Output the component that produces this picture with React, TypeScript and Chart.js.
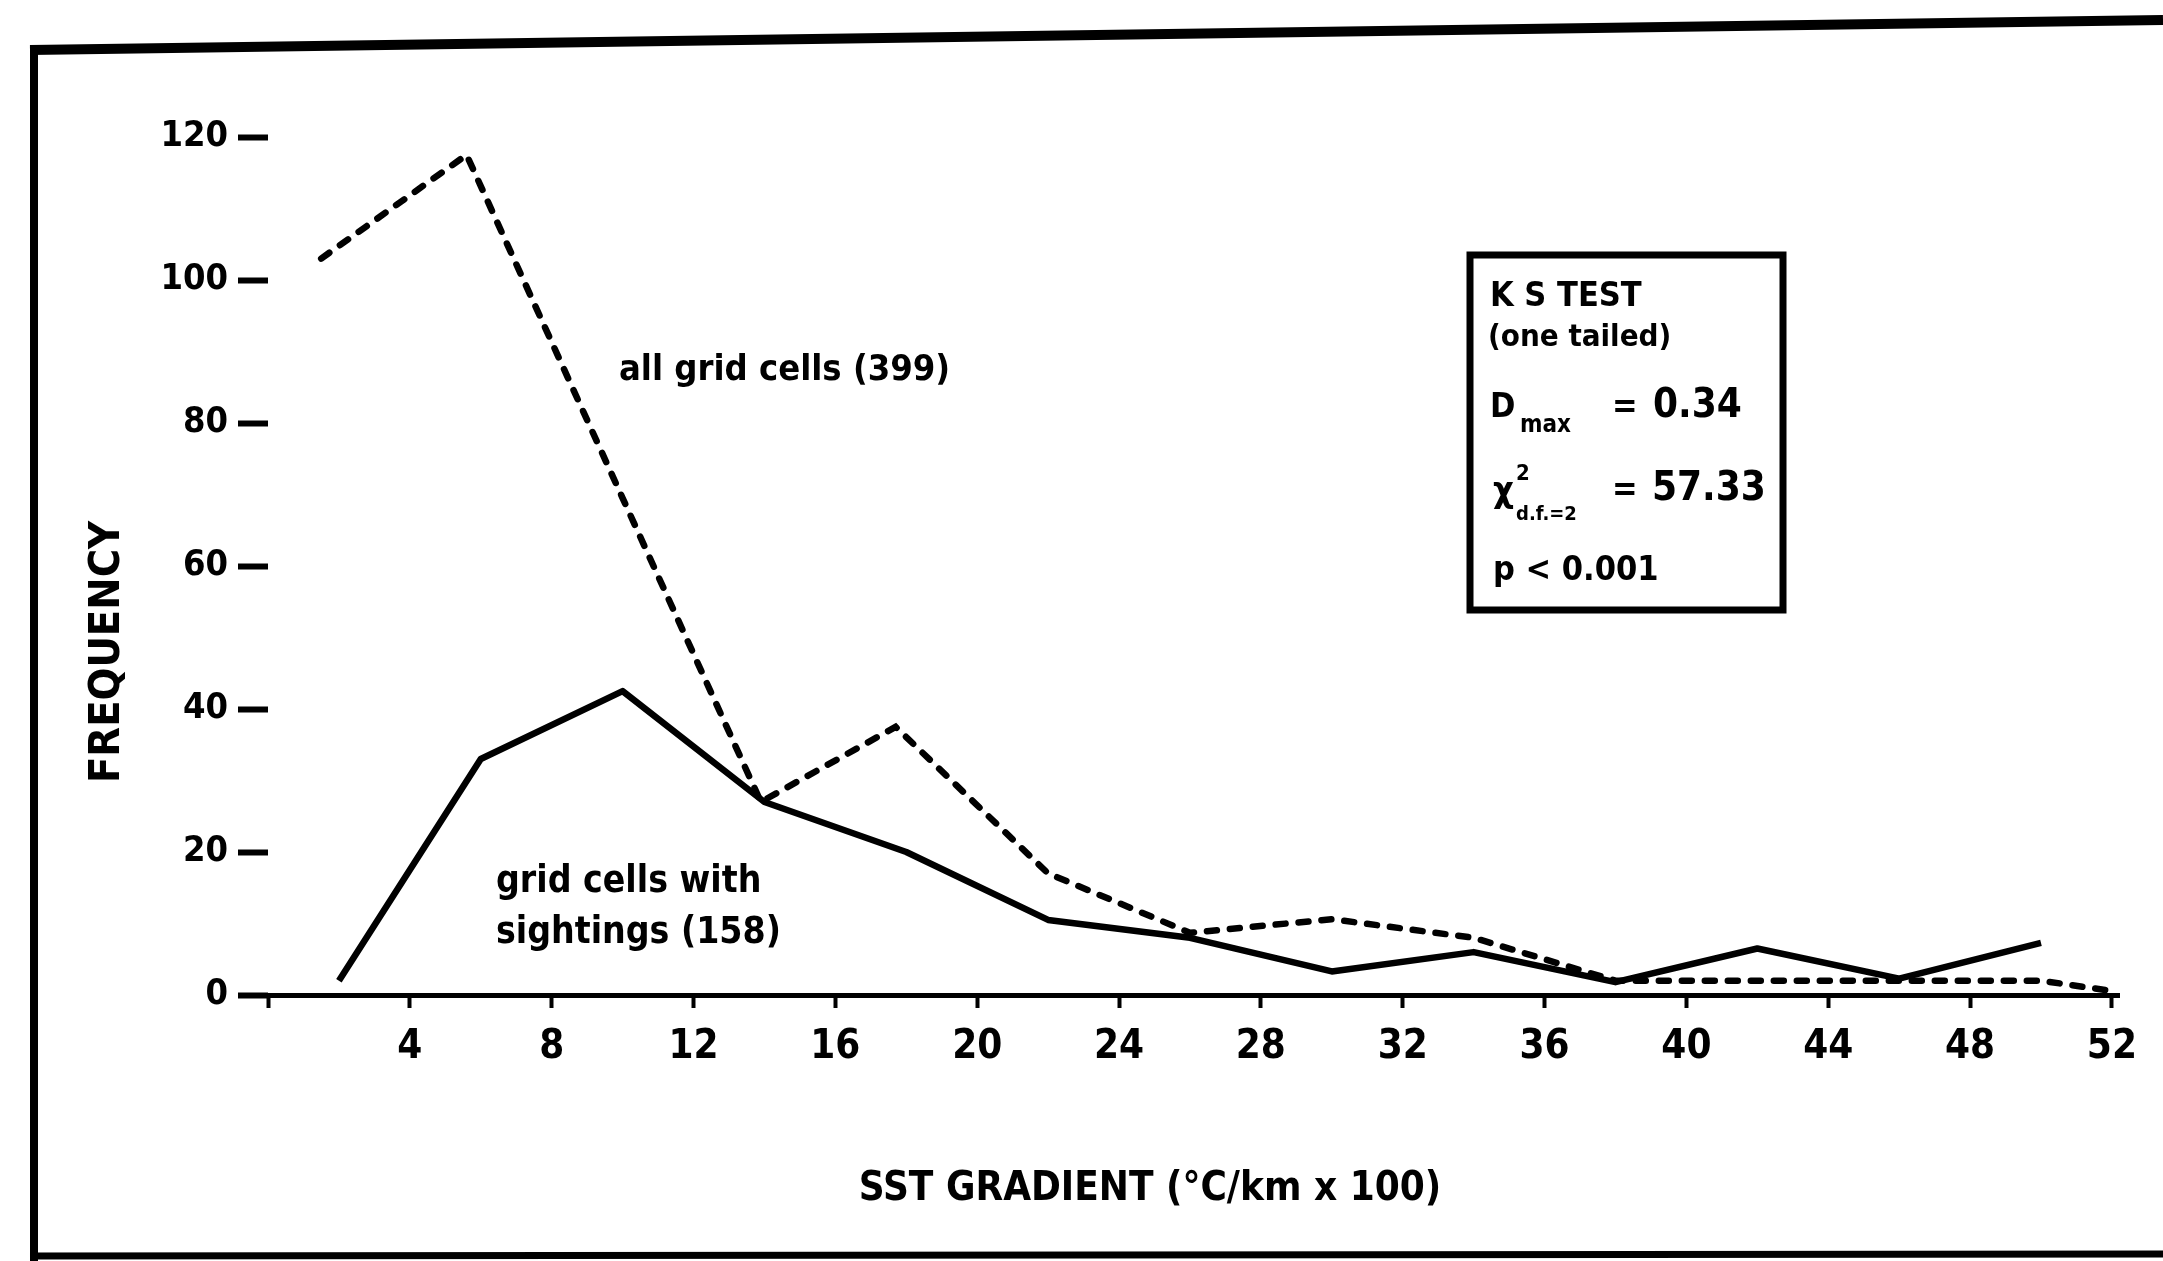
import { useEffect, useRef } from 'react';
import { Chart, registerables } from 'chart.js';

Chart.register(...registerables);

// SST gradient class midpoints (°C/km x 100)
const gradientMid = [2, 6, 10, 14, 18, 22, 26, 30, 34, 38, 42, 46, 50];
// grid cells with sightings (158)
const sightingsFreq = [2, 33, 42.5, 27, 20, 10.5, 8, 3.3, 6, 1.8, 6.5, 2.3, 7.3];
// all grid cells (399) – positions as drawn in the original
const allCellsGradient = [1.5, 5.6, 10, 13.9, 17.7, 22, 26, 30, 34, 38, 42, 46, 50, 52.1];
const allCellsFreq = [103, 117.5, 69.5, 27, 37.5, 17, 8.7, 10.6, 8, 2, 2, 2, 2, 0.5];

const xTickValues = [0, 4, 8, 12, 16, 20, 24, 28, 32, 36, 40, 44, 48, 52];
const yTickValues = [0, 20, 40, 60, 80, 100, 120];

const FONT = "'Liberation Sans Narrow', 'DejaVu Sans Condensed', 'Arial Narrow', sans-serif";

const decorPlugin = {
  id: 'decor',
  beforeDraw(chart: any) {
    const c = chart.ctx;
    c.save();
    c.fillStyle = '#ffffff';
    c.fillRect(0, 0, chart.width, chart.height);
    c.restore();
  },
  afterDraw(chart: any) {
    const c: CanvasRenderingContext2D = chart.ctx;
    c.save();
    c.strokeStyle = '#000';
    c.fillStyle = '#000';
    c.lineCap = 'butt';

    // outer frame (scanned, slightly skewed)
    c.lineWidth = 10;
    c.beginPath(); c.moveTo(30, 50); c.lineTo(2163, 20); c.stroke();
    c.lineWidth = 8;
    c.beginPath(); c.moveTo(34, 46); c.lineTo(34, 1261); c.stroke();
    c.lineWidth = 7;
    c.beginPath(); c.moveTo(30, 1256); c.lineTo(2163, 1254); c.stroke();

    const f = (size: number, weight = 'bold') => `${weight} ${size}px ${FONT}`;

    // y axis title
    c.save();
    c.translate(108, 652);
    c.rotate(-Math.PI / 2);
    c.font = f(43);
    c.textAlign = 'center';
    c.textBaseline = 'middle';
    c.fillText('FREQUENCY', 0, 0);
    c.restore();

    // x axis title
    c.font = f(40);
    c.textAlign = 'center';
    c.textBaseline = 'alphabetic';
    c.fillText('SST GRADIENT (°C/km x 100)', 1150, 1200);

    // series annotations
    c.textAlign = 'left';
    c.font = f(36);
    c.fillText('all grid cells (399)', 619, 380);
    c.font = f(37);
    c.fillText('grid cells with', 496, 892);
    c.fillText('sightings (158)', 496, 943);

    // K-S test box
    c.lineWidth = 7;
    c.strokeRect(1470, 255, 313, 355);
    c.font = f(34);
    c.fillText('K S TEST', 1490, 306);
    c.font = f(31);
    c.fillText('(one tailed)', 1488, 346);
    c.font = f(34);
    c.fillText('D', 1490, 417);
    c.font = f(24);
    c.fillText('max', 1520, 432);
    c.font = f(34);
    c.fillText('=', 1612, 417);
    c.font = f(40);
    c.fillText('0.34', 1653, 417);
    c.font = f(36);
    c.fillText('χ', 1493, 502);
    c.font = f(22);
    c.fillText('2', 1516, 480);
    c.font = f(20);
    c.fillText('d.f.=2', 1516, 520);
    c.font = f(34);
    c.fillText('=', 1612, 500);
    c.font = f(40);
    c.fillText('57.33', 1652, 500);
    c.font = f(34);
    c.fillText('p < 0.001', 1493, 580);

    c.restore();
  },
};

export default function App() {
  const canvasRef = useRef<HTMLCanvasElement | null>(null);

  useEffect(() => {
    if (!canvasRef.current) return;
    const chart = new Chart(canvasRef.current, {
      type: 'line',
      data: {
        datasets: [
          {
            label: 'all grid cells (399)',
            data: allCellsGradient.map((x, i) => ({ x, y: allCellsFreq[i] })),
            borderColor: '#000',
            borderWidth: 6.5,
            borderDash: [10, 13],
            borderCapStyle: 'round',
            pointRadius: 0,
            tension: 0,
            fill: false,
          },
          {
            label: 'grid cells with sightings (158)',
            data: gradientMid.map((x, i) => ({ x, y: sightingsFreq[i] })),
            borderColor: '#000',
            borderWidth: 6.5,
            borderJoinStyle: 'round',
            pointRadius: 0,
            tension: 0,
            fill: false,
          },
        ],
      },
      options: {
        responsive: false,
        animation: false,
        devicePixelRatio: 1,
        layout: { padding: { left: 68, right: 44, top: 137, bottom: 0 } },
        plugins: {
          legend: { display: false },
          tooltip: { enabled: false },
        },
        scales: {
          x: {
            type: 'linear',
            min: 0,
            max: 52.2,
            afterBuildTicks: (s: any) => {
              s.ticks = xTickValues.map((v) => ({ value: v }));
            },
            afterFit: (s: any) => {
              s.height = 266;
            },
            border: { display: true, color: '#000', width: 5 },
            grid: {
              drawOnChartArea: false,
              drawTicks: true,
              tickLength: 13,
              tickWidth: 4,
              color: '#000',
            },
            ticks: {
              autoSkip: false,
              maxRotation: 0,
              padding: 16,
              color: '#000',
              font: { family: FONT, size: 40, weight: 'bold' },
              callback: (v: any) => (v === 0 ? '' : String(v)),
            },
          },
          y: {
            type: 'linear',
            min: 0,
            max: 120,
            afterBuildTicks: (s: any) => {
              s.ticks = yTickValues.map((v) => ({ value: v }));
            },
            afterFit: (s: any) => {
              s.width = 200;
            },
            border: { display: false },
            grid: {
              drawOnChartArea: false,
              drawTicks: true,
              tickLength: 30,
              tickWidth: 6,
              color: '#000',
            },
            ticks: {
              padding: 10,
              color: '#000',
              font: { family: FONT, size: 36, weight: 'bold' },
            },
          },
        },
      },
      plugins: [decorPlugin],
    } as any);
    return () => chart.destroy();
  }, []);

  return (
    <div style={{ position: 'fixed', left: 0, top: 0, width: 2163, height: 1261, background: '#fff' }}>
      <canvas ref={canvasRef} width={2163} height={1261} style={{ display: 'block' }} />
    </div>
  );
}
